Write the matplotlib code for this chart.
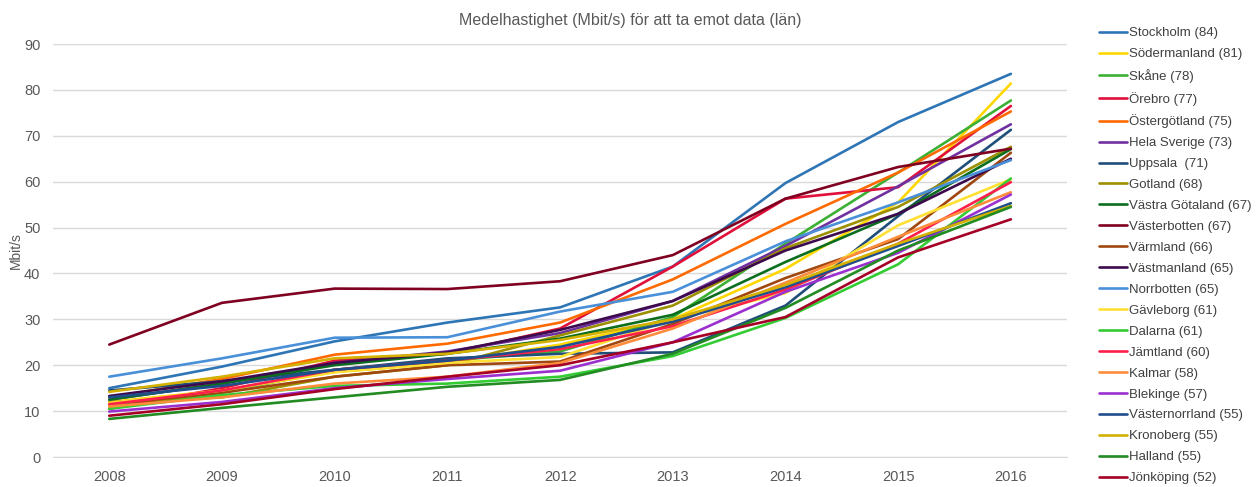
import numpy as np
import pandas as pd
import matplotlib
matplotlib.use('Agg')
import matplotlib.pyplot as plt

plt.rcParams['font.family'] = ['Liberation Sans', 'DejaVu Sans']

years = ['2008', '2009', '2010', '2011', '2012', '2013', '2014', '2015', '2016']

# values, Mbit/s per year
stockholm      = [15.0, 19.7, 25.2, 29.3, 32.6, 41.5, 59.7, 73.0, 83.5]
sodermanland   = [12.0, 14.5, 18.5, 20.5, 24.5, 30.0, 41.0, 55.5, 81.4]
skane          = [11.0, 14.0, 19.0, 21.0, 23.0, 30.5, 46.5, 62.0, 77.7]
orebro         = [10.5, 15.0, 21.0, 22.5, 28.0, 41.5, 56.3, 58.8, 76.5]
ostergotland   = [13.0, 17.0, 22.3, 24.7, 29.3, 38.7, 50.8, 62.0, 75.3]
hela_sverige   = [12.5, 16.0, 20.5, 23.0, 27.0, 34.0, 46.0, 59.0, 72.5]
uppsala        = [14.5, 16.5, 19.0, 21.5, 22.5, 22.8, 33.0, 52.5, 71.3]
gotland        = [12.0, 13.0, 17.5, 20.0, 26.5, 33.0, 45.5, 54.5, 67.6]
vastra_gotaland = [12.5, 16.0, 20.0, 22.5, 25.8, 31.0, 42.5, 53.0, 67.1]
vasterbotten   = [24.5, 33.6, 36.7, 36.6, 38.3, 44.0, 56.3, 63.2, 67.2]
varmland       = [11.5, 14.0, 17.5, 20.0, 20.8, 29.0, 39.0, 47.5, 66.3]
vastmanland    = [13.3, 16.5, 20.5, 22.8, 27.7, 34.0, 45.0, 53.0, 65.0]
norrbotten     = [17.5, 21.5, 26.0, 26.1, 31.7, 36.0, 47.0, 55.5, 64.7]
gavleborg      = [11.8, 14.5, 18.5, 20.5, 21.8, 30.0, 35.7, 50.5, 60.5]
dalarna        = [10.5, 13.5, 15.5, 16.0, 17.5, 22.0, 30.3, 42.0, 60.7]
jamtland       = [11.5, 14.5, 19.0, 21.0, 23.5, 28.5, 36.5, 46.5, 59.9]
kalmar         = [11.0, 13.0, 16.0, 17.5, 20.5, 28.0, 38.0, 48.0, 57.7]
blekinge       = [9.9, 12.0, 15.0, 17.0, 18.8, 25.0, 36.0, 44.5, 57.2]
vasternorrland = [13.0, 15.5, 19.0, 21.0, 24.0, 29.5, 37.0, 46.0, 55.3]
kronoberg      = [14.2, 17.5, 21.5, 22.5, 25.5, 30.0, 37.5, 46.5, 54.7]
halland        = [8.3, 10.7, 13.0, 15.3, 16.8, 22.5, 32.5, 45.0, 54.5]
jonkoping      = [9.0, 11.5, 14.8, 17.5, 20.0, 25.0, 30.5, 43.5, 51.8]

labels = ['Stockholm (84)', 'Södermanland (81)', 'Skåne (78)', 'Örebro (77)',
          'Östergötland (75)', 'Hela Sverige (73)', 'Uppsala  (71)', 'Gotland (68)',
          'Västra Götaland (67)', 'Västerbotten (67)', 'Värmland (66)',
          'Västmanland (65)', 'Norrbotten (65)', 'Gävleborg (61)', 'Dalarna (61)',
          'Jämtland (60)', 'Kalmar (58)', 'Blekinge (57)', 'Västernorrland (55)',
          'Kronoberg (55)', 'Halland (55)', 'Jönköping (52)']

series = [stockholm, sodermanland, skane, orebro, ostergotland, hela_sverige,
          uppsala, gotland, vastra_gotaland, vasterbotten, varmland, vastmanland,
          norrbotten, gavleborg, dalarna, jamtland, kalmar, blekinge,
          vasternorrland, kronoberg, halland, jonkoping]

colors = ['#2e75b6', '#ffd700', '#3cb034', '#e0103a', '#ff6a00', '#7030a0',
          '#1f4e79', '#9c8f00', '#0b6e1e', '#7f0020', '#a0460f', '#3d0b4d',
          '#4a90d9', '#ffe033', '#33cc33', '#ff1f4b', '#ff8c3a', '#9b30d0',
          '#1f4e8c', '#d4b000', '#228b22', '#a50026']

df = pd.DataFrame(dict(zip(labels, series)), index=years)

fig = plt.figure(figsize=(12.6, 4.87), dpi=100)
ax = fig.add_axes([0.042, 0.0616, 0.805, 0.848])

x = np.arange(len(years))
for lab, col in zip(labels, colors):
    ax.plot(x, df[lab].values, color=col, lw=1.9, label=lab, solid_capstyle='round')

ax.set_xlim(-0.5, len(years) - 0.5)
ax.set_ylim(0, 90)
ax.set_yticks(np.arange(0, 91, 10))
ax.set_xticks(x)
ax.set_xticklabels(years)
ax.grid(axis='y', color='#d9d9d9', lw=1)
ax.set_axisbelow(True)
for s in ['top', 'right', 'left']:
    ax.spines[s].set_visible(False)
ax.spines['bottom'].set_color('#d9d9d9')
ax.tick_params(axis='both', length=0, labelsize=10.5, colors='#595959', pad=9)
ax.set_ylabel('Mbit/s', fontsize=10, color='#595959', labelpad=1)

fig.text(0.5, 0.957, 'Medelhastighet (Mbit/s) för att ta emot data (län)',
         ha='center', va='center', fontsize=11.5, color='#595959')

fig.legend(loc='upper left', bbox_to_anchor=(0.868, 0.955), frameon=False,
           fontsize=9.5, labelspacing=0.66, handlelength=2.1, handletextpad=0.15,
           borderaxespad=0, labelcolor='#404040')

fig.savefig('out.png', dpi=100)
